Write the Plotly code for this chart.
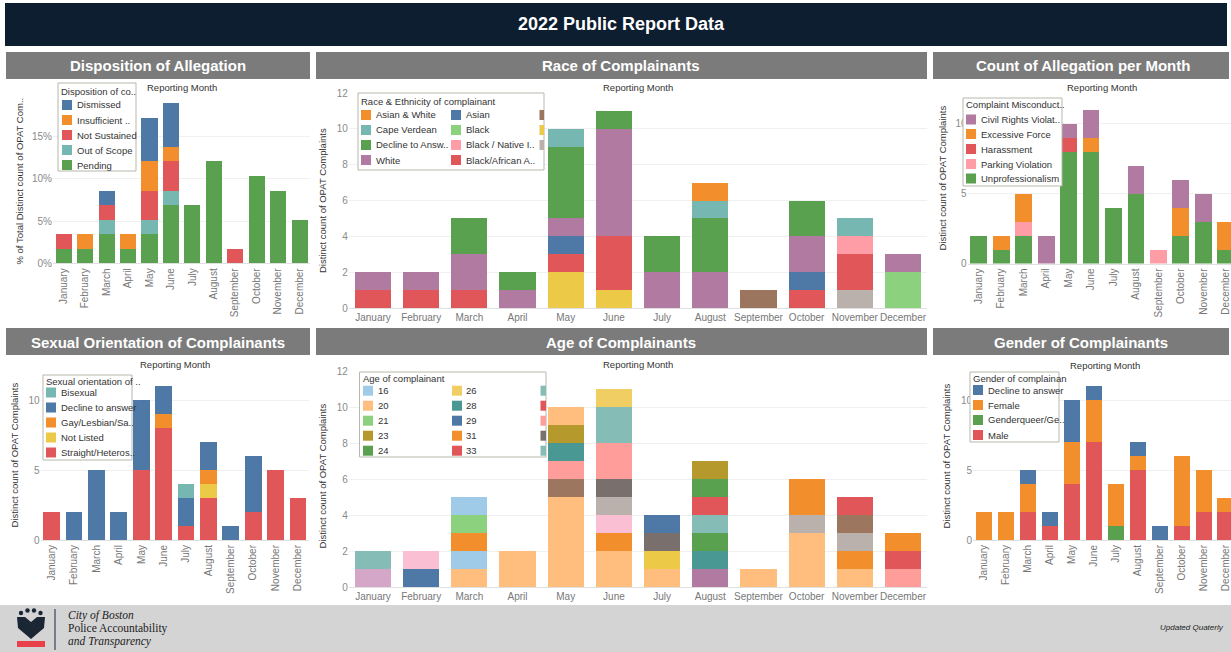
import plotly.graph_objects as go

W, H = 1231, 652
FONT = "Liberation Sans, Arial, sans-serif"

months = ["January", "February", "March", "April", "May", "June", "July",
          "August", "September", "October", "November", "December"]

# ---------------- Disposition of Allegation (% of total distinct count) ----------------
disp_labels = ["Dismissed", "Insufficient Evidence", "Not Sustained", "Out of Scope", "Pending"]
disp_legend_text = ["Dismissed", "Insufficient ..", "Not Sustained", "Out of Scope", "Pending"]
disp_dismissed = [0, 0, 1.72, 0, 5.17, 5.17, 0, 0, 0, 0, 0, 0]
disp_insufficient = [0, 1.72, 0, 1.72, 3.45, 1.72, 0, 0, 0, 0, 0, 0]
disp_not_sustained = [1.72, 0, 1.72, 0, 3.45, 3.45, 0, 0, 1.72, 0, 0, 0]
disp_out_of_scope = [0, 0, 1.72, 0, 1.72, 1.72, 0, 0, 0, 0, 0, 0]
disp_pending = [1.72, 1.72, 3.45, 1.72, 3.45, 6.90, 6.90, 12.07, 0, 10.34, 8.62, 5.17]

# ---------------- Race of Complainants (distinct count) ----------------
race_labels = ["Asian & White", "Cape Verdean", "Decline to Answer", "White",
               "Asian", "Black", "Black / Native Indian", "Black/African American",
               "Middle Eastern", "Hispanic/Latinx", "Other"]
race_legend_text = ["Asian & White", "Cape Verdean", "Decline to Answ..", "White",
                    "Asian", "Black", "Black / Native I..", "Black/African A..",
                    "", "", ""]
race_asian_white = [0, 0, 0, 0, 0, 0, 0, 1, 0, 0, 0, 0]
race_cape_verdean = [0, 0, 0, 0, 1, 0, 0, 1, 0, 0, 1, 0]
race_decline = [0, 0, 2, 1, 4, 1, 2, 3, 0, 2, 0, 0]
race_white = [1, 1, 2, 1, 1, 6, 2, 2, 0, 2, 0, 1]
race_asian = [0, 0, 0, 0, 1, 0, 0, 0, 0, 1, 0, 0]
race_black = [0, 0, 0, 0, 0, 0, 0, 0, 0, 0, 0, 2]
race_black_native = [0, 0, 0, 0, 0, 0, 0, 0, 0, 0, 1, 0]
race_black_african = [1, 1, 1, 0, 1, 3, 0, 0, 0, 1, 2, 0]
race_middle_eastern = [0, 0, 0, 0, 0, 0, 0, 0, 1, 0, 0, 0]
race_hispanic = [0, 0, 0, 0, 2, 1, 0, 0, 0, 0, 0, 0]
race_other = [0, 0, 0, 0, 0, 0, 0, 0, 0, 0, 1, 0]

# ---------------- Count of Allegation per Month ----------------
alleg_labels = ["Civil Rights Violation", "Excessive Force", "Harassment",
                "Parking Violation", "Unprofessionalism"]
alleg_legend_text = ["Civil Rights Violat..", "Excessive Force", "Harassment",
                     "Parking Violation", "Unprofessionalism"]
alleg_civil_rights = [0, 0, 0, 2, 1, 2, 0, 2, 0, 2, 2, 0]
alleg_excessive_force = [0, 1, 2, 0, 0, 1, 0, 0, 0, 2, 0, 2]
alleg_harassment = [0, 0, 0, 0, 1, 0, 0, 0, 0, 0, 0, 0]
alleg_parking = [0, 0, 1, 0, 0, 0, 0, 0, 1, 0, 0, 0]
alleg_unprofessionalism = [2, 1, 2, 0, 8, 8, 4, 5, 0, 2, 3, 1]

# ---------------- Sexual Orientation of Complainants ----------------
sex_labels = ["Bisexual", "Decline to answer", "Gay/Lesbian/Same-Gender Loving",
              "Not Listed", "Straight/Heterosexual"]
sex_legend_text = ["Bisexual", "Decline to answer", "Gay/Lesbian/Sa..",
                   "Not Listed", "Straight/Heteros.."]
sex_bisexual = [0, 0, 0, 0, 0, 0, 1, 0, 0, 0, 0, 0]
sex_decline = [0, 2, 5, 2, 5, 2, 2, 2, 1, 4, 0, 0]
sex_gay = [0, 0, 0, 0, 0, 1, 0, 1, 0, 0, 0, 0]
sex_not_listed = [0, 0, 0, 0, 0, 0, 0, 1, 0, 0, 0, 0]
sex_straight = [2, 0, 0, 0, 5, 8, 1, 3, 0, 2, 5, 3]

# ---------------- Age of Complainants (legend order) ----------------
age_labels = ["16", "20", "21", "23", "24", "26", "28", "29", "31", "33",
              "34", "35", "36", "37", "38", "39", "40", "41", "42", "43",
              "44", "45", "46", "47", "48", "49", "52"]
age_counts = {
    "16": [0, 0, 1, 0, 0, 0, 0, 0, 0, 0, 0, 0],
    "20": [0, 0, 0, 0, 1, 0, 0, 0, 0, 0, 0, 0],
    "21": [0, 0, 1, 0, 0, 0, 0, 0, 0, 0, 0, 0],
    "23": [0, 0, 0, 0, 1, 0, 0, 1, 0, 0, 0, 0],
    "24": [0, 0, 0, 0, 0, 0, 0, 1, 0, 0, 0, 0],
    "26": [0, 0, 0, 0, 0, 1, 0, 0, 0, 0, 0, 0],
    "28": [0, 0, 0, 0, 1, 0, 0, 0, 0, 0, 0, 0],
    "29": [0, 0, 0, 0, 0, 0, 1, 0, 0, 0, 0, 0],
    "31": [0, 0, 1, 0, 0, 0, 0, 0, 0, 2, 0, 1],
    "33": [0, 0, 0, 0, 0, 0, 0, 0, 0, 0, 1, 1],
    "34": [1, 0, 0, 0, 0, 2, 0, 0, 0, 0, 0, 0],
    "35": [0, 0, 0, 0, 0, 0, 0, 1, 0, 0, 0, 0],
    "36": [0, 0, 0, 0, 1, 2, 0, 0, 0, 0, 0, 1],
    "37": [0, 0, 0, 0, 0, 1, 1, 0, 0, 0, 0, 0],
    "38": [0, 0, 0, 0, 0, 0, 0, 1, 0, 0, 0, 0],
    "39": [0, 0, 0, 0, 1, 0, 0, 0, 0, 0, 1, 0],
    "40": [0, 0, 0, 0, 0, 1, 0, 0, 0, 1, 1, 0],
    "41": [0, 1, 0, 0, 0, 1, 0, 0, 0, 0, 0, 0],
    "42": [0, 0, 0, 0, 0, 0, 0, 1, 0, 0, 0, 0],
    "43": [0, 0, 0, 0, 0, 0, 0, 1, 0, 0, 0, 0],
    "44": [0, 0, 0, 0, 0, 0, 0, 1, 0, 0, 0, 0],
    "45": [1, 0, 0, 0, 0, 0, 0, 0, 0, 0, 0, 0],
    "46": [0, 1, 0, 0, 0, 0, 0, 0, 0, 0, 0, 0],
    "47": [0, 0, 1, 0, 0, 0, 0, 0, 0, 0, 0, 0],
    "48": [0, 0, 0, 0, 0, 1, 0, 0, 0, 0, 1, 0],
    "49": [0, 0, 0, 0, 0, 0, 1, 0, 0, 0, 0, 0],
    "52": [0, 0, 1, 2, 5, 2, 1, 0, 1, 3, 1, 0],
}
age_legend_text = ["16", "20", "21", "23", "24", "26", "28", "29", "31", "33",
                   "", "", "", "", ""]

# ---------------- Gender of Complainants ----------------
gender_labels = ["Decline to answer", "Female", "Genderqueer/Gender Non-Conforming", "Male"]
gender_legend_text = ["Decline to answer", "Female", "Genderqueer/Ge..", "Male"]
gender_decline = [0, 0, 1, 1, 3, 1, 0, 1, 1, 0, 0, 0]
gender_female = [2, 2, 2, 0, 3, 3, 3, 1, 0, 5, 3, 1]
gender_genderqueer = [0, 0, 0, 0, 0, 0, 1, 0, 0, 0, 0, 0]
gender_male = [0, 0, 2, 1, 4, 7, 0, 5, 0, 1, 2, 2]

# ---------------- colours (style) ----------------
BLUE, ORANGE, RED, TEAL, GREEN = "#4E79A7", "#F28E2B", "#E15759", "#76B7B2", "#59A14F"
YELLOW, PURPLE, PINK, BROWN, GRAY = "#EDC948", "#B07AA1", "#FF9DA7", "#9C755F", "#BAB0AC"
disp_colors = [BLUE, ORANGE, RED, TEAL, GREEN]
race_colors = [ORANGE, TEAL, GREEN, PURPLE, BLUE, "#8CD17D", PINK, RED, BROWN, YELLOW, GRAY]
alleg_colors = [PURPLE, ORANGE, RED, PINK, GREEN]
sex_colors = [TEAL, BLUE, ORANGE, YELLOW, RED]
gender_colors = [BLUE, ORANGE, GREEN, RED]
age_colors = ["#A0CBE8", "#FFBE7D", "#8CD17D", "#B6992D", "#59A14F", "#F1CE63", "#499894",
              "#4E79A7", "#F28E2B", "#E15759", "#86BCB6", "#E15759", "#FF9D9A", "#79706E",
              "#86BCB6", "#9D7660", "#BAB0AC", "#FABFD2", "#59A14F", "#499894", "#B07AA1",
              "#D4A6C8", "#4E79A7", "#A0CBE8", "#F28E2B", "#EDC948", "#FFBE7D"]


def X(p):
    return p / W


def Y(p):
    return 1 - p / H


fig = go.Figure()
shapes = []
annotations = []


def add_stack(i, labels, series, colors):
    xa = "x" if i == 1 else f"x{i}"
    ya = "y" if i == 1 else f"y{i}"
    # Tableau puts the first legend item on top -> add traces bottom-up
    for lab, vals, col in reversed(list(zip(labels, series, colors))):
        fig.add_trace(go.Bar(x=months, y=vals, name=lab, marker=dict(color=col, line=dict(width=0)),
                             xaxis=xa, yaxis=ya, showlegend=False))


add_stack(1, disp_labels, [disp_dismissed, disp_insufficient, disp_not_sustained,
                           disp_out_of_scope, disp_pending], disp_colors)
add_stack(2, race_labels, [race_asian_white, race_cape_verdean, race_decline, race_white,
                           race_asian, race_black, race_black_native, race_black_african,
                           race_middle_eastern, race_hispanic, race_other], race_colors)
add_stack(3, alleg_labels, [alleg_civil_rights, alleg_excessive_force, alleg_harassment,
                            alleg_parking, alleg_unprofessionalism], alleg_colors)
add_stack(4, sex_labels, [sex_bisexual, sex_decline, sex_gay, sex_not_listed, sex_straight],
          sex_colors)
add_stack(5, age_labels, [age_counts[a] for a in age_labels], age_colors)
add_stack(6, gender_labels, [gender_decline, gender_female, gender_genderqueer, gender_male],
          gender_colors)

# panel geometry in pixels: x (left,right), y (top,bottom)
panels = {
    1: dict(x=(53, 310.3), y=(95.3, 263.3), yr=[0, 19.9], xr=[-0.5, 11.5], dtick=5, suf="%", ang=-90),
    2: dict(x=(348.9, 927.1), y=(93, 308), yr=[0, 12], xr=[-0.5, 11.5], dtick=2, suf="", ang=0),
    3: dict(x=(967.5, 1231), y=(95.5, 263.5), yr=[0, 12], xr=[-0.5, 11.23], dtick=5, suf="", ang=-90),
    4: dict(x=(40.5, 309.2), y=(372, 540), yr=[0, 12], xr=[-0.5, 11.5], dtick=5, suf="", ang=-90),
    5: dict(x=(348.9, 927.1), y=(371.3, 587.3), yr=[0, 12], xr=[-0.5, 11.5], dtick=2, suf="", ang=0),
    6: dict(x=(973, 1231), y=(372, 540), yr=[0, 12], xr=[-0.5, 11.24], dtick=5, suf="", ang=-90),
}
layout_axes = {}
for i, p in panels.items():
    xn = "xaxis" if i == 1 else f"xaxis{i}"
    yn = "yaxis" if i == 1 else f"yaxis{i}"
    layout_axes[xn] = dict(domain=[X(p["x"][0]), X(p["x"][1])], anchor="y" if i == 1 else f"y{i}",
                           type="category", range=p["xr"], tickangle=p["ang"], fixedrange=True,
                           tickfont=dict(size=10, color="#777777", family=FONT),
                           showgrid=False, showline=True, linecolor="#e0e0e0", linewidth=1,
                           ticks="", zeroline=False, automargin=False)
    layout_axes[yn] = dict(domain=[Y(p["y"][1]), Y(p["y"][0])], anchor="x" if i == 1 else f"x{i}",
                           range=p["yr"], dtick=p["dtick"], ticksuffix=p["suf"], fixedrange=True,
                           tickfont=dict(size=10, color="#8a8a8a", family=FONT),
                           showgrid=True, gridcolor="#f0f0f0", gridwidth=1, zeroline=False,
                           showline=False, ticks="", automargin=False)


def rect(x0, y0, x1, y1, fill, line=None, lw=0, layer="above"):
    shapes.append(dict(type="rect", xref="paper", yref="paper", x0=X(x0), x1=X(x1),
                       y0=Y(y1), y1=Y(y0), fillcolor=fill, layer=layer,
                       line=dict(color=line or fill, width=lw)))


def text(x, y, s, size=10, color="#333333", xanchor="center", bold=False, italic=False,
         angle=0, family=FONT):
    if bold:
        s = f"<b>{s}</b>"
    if italic:
        s = f"<i>{s}</i>"
    annotations.append(dict(x=X(x), y=Y(y), xref="paper", yref="paper", text=s, showarrow=False,
                            xanchor=xanchor, yanchor="middle", textangle=angle,
                            font=dict(size=size, color=color, family=family), borderpad=0))


# page background pieces
rect(5, 3, 1227, 46, "#0c1e30", layer="below")
text(621, 24.5, "2022 Public Report Data", size=18, color="white", bold=True)
HEAD = "#7b7b7b"
for (x0, x1, y0, y1, t, cx) in [
    (6, 310, 52, 79, "Disposition of Allegation", 158),
    (316, 927, 52, 79, "Race of Complainants", 621),
    (933, 1229, 52, 79, "Count of Allegation per Month", 1083),
    (6, 310, 328, 355, "Sexual Orientation of Complainants", 158),
    (316, 927, 328, 355, "Age of Complainants", 621),
    (933, 1229, 328, 355, "Gender of Complainants", 1081),
]:
    rect(x0, y0, x1, y1, HEAD, layer="below")
    text(cx, (y0 + y1) / 2 + 0.5, t, size=15, color="white", bold=True)

# "Reporting Month" column headers
for (cx, cy) in [(182, 87.5), (638, 87.5), (1102, 87), (175, 364.5), (638, 364.5), (1105, 365)]:
    text(cx, cy, "Reporting Month", size=9.5, color="#333333")

# y-axis titles
for (cx, cy, t) in [(18.5, 181, "% of Total Distinct count of OPAT Com.."),
                    (322, 201, "Distinct count of OPAT Complaints"),
                    (941.5, 178, "Distinct count of OPAT Complaints"),
                    (13.5, 455, "Distinct count of OPAT Complaints"),
                    (322, 476.5, "Distinct count of OPAT Complaints"),
                    (945.5, 456, "Distinct count of OPAT Complaints")]:
    text(cx, cy, t, size=9.5, color="#333333", angle=-90)

# legends (Tableau-style boxes drawn inside the plot areas)
BOX = "#b8b8ae"


def legend(box, title, title_xy, rows_y, cols, labels, colors, nrows):
    rect(box[0], box[1], box[2], box[3], "white", line=BOX, lw=1)
    text(title_xy[0], title_xy[1], title, size=9.5, color="#333333", xanchor="left")
    for k, (lab, col) in enumerate(zip(labels, colors)):
        c, r = divmod(k, nrows)
        if c >= len(cols):
            break
        sx0, sx1, tx = cols[c]
        yc = rows_y[r]
        rect(sx0, yc - 5, sx1, yc + 5, col)
        if lab:
            text(tx, yc, lab, size=9.5, color="#333333", xanchor="left")


legend((58, 83, 136, 171), "Disposition of co..", (60, 92), [105, 120, 135, 150, 165],
       [(62, 72, 76)], disp_legend_text, disp_colors, 5)
legend((358, 93, 544, 170), "Race & Ethnicity of complainant", (360, 101.5),
       [115, 130, 145, 160], [(361, 371, 375), (451, 461, 465), (539.5, 544, None)],
       race_legend_text, race_colors, 4)
legend((963, 98, 1062, 186), "Complaint Misconduct..", (965, 105),
       [119.5, 134, 149, 164, 178.5], [(966, 976, 980)], alleg_legend_text, alleg_colors, 5)
legend((43, 375, 132, 460), "Sexual orientation of ..", (45, 381),
       [392.5, 407.5, 422.5, 437.5, 452.5], [(46, 56, 59.5)], sex_legend_text, sex_colors, 5)
legend((359.5, 372, 546, 457), "Age of complainant", (361.5, 378.5),
       [390.7, 405.7, 420.7, 435.7, 450.7], [(363, 373, 376.5), (452, 462, 465), (540.5, 546, None)],
       age_legend_text, age_colors[:15], 5)
legend((970, 372, 1059, 442), "Gender of complainan", (972, 378.5),
       [390, 405, 420, 435], [(973, 983, 987)], gender_legend_text, gender_colors, 4)

# footer
rect(0, 605, 1231, 652, "#d4d4d4", layer="below")
DARK = "#1b2635"
for (cx, cy, r) in [(21, 613, 2.2), (27.5, 610.5, 2.2), (34, 610.5, 2.2), (40.5, 613, 2.2)]:
    shapes.append(dict(type="circle", xref="paper", yref="paper", x0=X(cx - r), x1=X(cx + r),
                       y0=Y(cy + r), y1=Y(cy - r), fillcolor=DARK, line=dict(width=0)))
pts = [(17, 617), (25, 617), (31, 622), (37, 617), (45, 617), (44, 628), (31, 639), (18, 628)]
path = "M " + " L ".join(f"{X(a):.5f},{Y(b):.5f}" for a, b in pts) + " Z"
shapes.append(dict(type="path", xref="paper", yref="paper", path=path, fillcolor=DARK,
                   line=dict(width=0)))
rect(17, 641, 45, 647, "#e8414a")
shapes.append(dict(type="line", xref="paper", yref="paper", x0=X(55), x1=X(55), y0=Y(609),
                   y1=Y(650), line=dict(color=DARK, width=1)))
SERIF = "Liberation Serif, Times New Roman, serif"
text(67, 615.5, "City of Boston", size=11.5, color="#222222", xanchor="left", italic=True, family=SERIF)
text(67, 628.5, "Police Accountability", size=11.5, color="#222222", xanchor="left", family=SERIF)
text(67, 641.5, "and Transparency", size=11.5, color="#222222", xanchor="left", italic=True, family=SERIF)
text(1225, 627.5, "Updated Quaterly", size=8, color="#222222", xanchor="right", italic=True)

fig.update_layout(
    width=W, height=H, autosize=False,
    margin=dict(l=0, r=0, t=0, b=0, pad=0, autoexpand=False),
    paper_bgcolor="white", plot_bgcolor="white", barmode="stack", bargap=0.25,
    showlegend=False, font=dict(family=FONT, size=10, color="#333333"),
    shapes=shapes, annotations=annotations, hovermode="closest",
    **layout_axes,
)

POST = (
    "var de=document.documentElement, b=document.body;"
    "de.style.margin='0';de.style.padding='0';de.style.overflow='hidden';"
    "b.style.margin='0';b.style.padding='0';b.style.overflow='hidden';"
    "var gd=document.querySelector('.plotly-graph-div');"
    "if(gd){gd.style.position='absolute';gd.style.left='0px';gd.style.top='0px';}"
)
fig.write_html("out.html", config={"displayModeBar": False, "responsive": False},
               post_script=POST)
